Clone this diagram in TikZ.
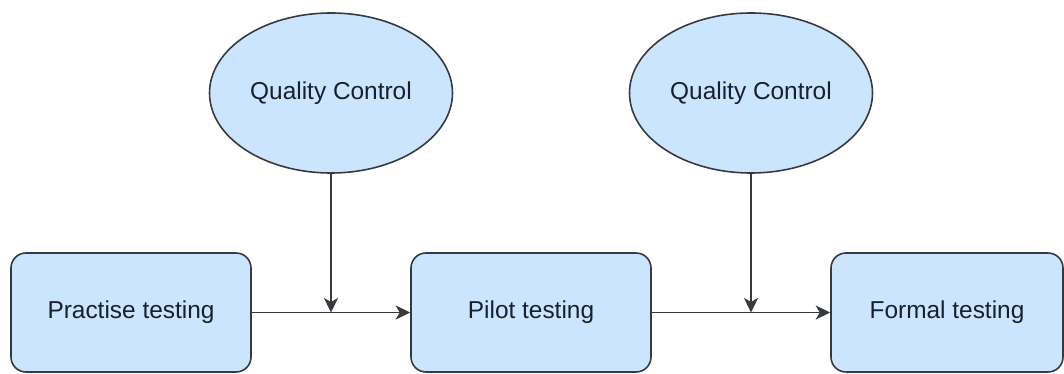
\documentclass[tikz,border=0pt]{standalone}
\usepackage{fontspec}
\setmainfont{Liberation Sans}
\usetikzlibrary{shapes,arrows.meta}

\definecolor{boxfill}{HTML}{CCE5FF}
\definecolor{boxline}{HTML}{36393D}
\definecolor{textcol}{HTML}{18202C}

\tikzset{
  stage/.style={draw=boxline, fill=boxfill, line width=0.9pt, rounded corners=0.3cm,
    minimum width=4.8cm, minimum height=2.38cm, inner sep=0pt, text=textcol},
  check/.style={draw=boxline, fill=boxfill, line width=0.9pt, ellipse,
    minimum width=4.86cm, minimum height=3.2cm, inner sep=0pt, text=textcol},
  flow/.style={draw=boxline, line width=1.1pt,
    -{Stealth[length=0.29cm, width=0.28cm, inset=0.08cm]}}
}

\begin{document}
\begin{tikzpicture}[font=\fontsize{13.9}{16}\selectfont]

\useasboundingbox (0, 0) rectangle (21.28, 7.48);

% ── Testing stages ──────────────────────
\node[stage] (practise) at (2.62, 1.23) {Practise testing};
\node[stage] (pilot)    at (10.62, 1.23) {Pilot testing};
\node[stage, minimum width=4.64cm] (formal) at (18.94, 1.23) {Formal testing};

% ── Quality checks ──────────────────────
\node[check] (qc1) at (6.62, 5.62) {Quality Control};
\node[check] (qc2) at (15.02, 5.62) {Quality Control};

% Join points on the horizontal flow
\coordinate (join1) at (qc1.south |- practise.east);
\coordinate (join2) at (qc2.south |- pilot.east);

% Flow arrows
\draw[flow] (practise) -- (pilot);
\draw[flow] (pilot) -- (formal);
\draw[flow] (qc1) -- (join1);
\draw[flow] (qc2) -- (join2);

\end{tikzpicture}
\end{document}
